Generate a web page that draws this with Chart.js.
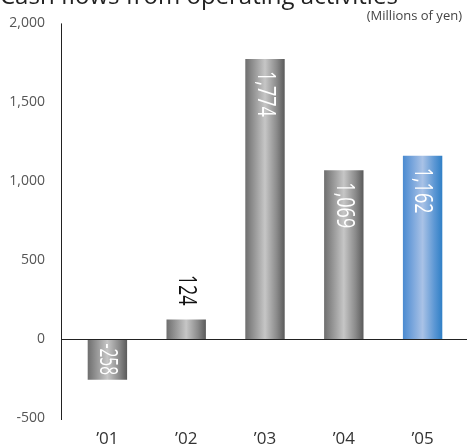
<!DOCTYPE html>
<html>
<head>
<meta charset="utf-8">
<script src="https://cdn.jsdelivr.net/npm/chart.js@4.4.1/dist/chart.umd.min.js"></script>
<style>
  html, body { margin: 0; padding: 0; background: #fff; overflow: hidden; }
  #wrap { position: relative; width: 467px; height: 446px; }
  #title {
    position: absolute; left: 0; top: -22px; margin: 0;
    font: 400 24px "Open Sans", sans-serif; color: #222; white-space: nowrap;
  }
  #unit {
    position: absolute; right: 5px; top: 6px;
    font: 400 13px "Open Sans", sans-serif; color: #444;
  }
  canvas { position: absolute; left: 0; top: 0; }
</style>
</head>
<body>
<div id="wrap">
  <canvas id="chartCash" width="467" height="446"></canvas>
  <div id="title">Cash flows from operating activities</div>
  <div id="unit">(Millions of yen)</div>
</div>
<script>
// data
const years = ["\u201901", "\u201902", "\u201903", "\u201904", "\u201905"];
const cashFlow = [-258, 124, 1774, 1069, 1162];
const yTicks = [-500, 0, 500, 1000, 1500, 2000];

const grayStops = ["#6e6e6e", "#9a9a9a", "#c6c6c6", "#8a8a8a", "#5a5a5a"];
const blueStops = ["#4a8ad0", "#7aa6dc", "#a9c2e6", "#5c97d4", "#2f7fc6"];

function barGradient(ctx) {
    const chart = ctx.chart;
    const xs = chart.scales.x;
    if (!xs || !chart.chartArea) return "#999";
    const cx = xs.getPixelForValue(ctx.dataIndex);
    const half = xs.width / years.length * 0.25;
    const g = chart.ctx.createLinearGradient(cx - half, 0, cx + half, 0);
    const stops = ctx.dataIndex === years.length - 1 ? blueStops : grayStops;
    [0, 0.25, 0.5, 0.8, 1].forEach((p, i) => g.addColorStop(p, stops[i]));
    return g;
}

// axis line + zero line + vertical value labels
const axisPlugin = {
    id: "axisPlugin",
    afterDraw(chart) {
        const c = chart.ctx;
        const area = chart.chartArea;
        const ys = chart.scales.y;
        const axisX = area.left - 7;
        const zeroY = Math.round(ys.getPixelForValue(0)) + 0.5;
        c.save();
        c.strokeStyle = "#222";
        c.lineWidth = 1;
        c.beginPath();
        c.moveTo(axisX + 0.5, area.top);
        c.lineTo(axisX + 0.5, area.bottom + 2);
        c.moveTo(axisX, zeroY);
        c.lineTo(chart.width, zeroY);
        c.stroke();

        const meta = chart.getDatasetMeta(0);
        c.font = '400 25px "Open Sans", sans-serif';
        c.textBaseline = "middle";
        meta.data.forEach((bar, i) => {
            const v = cashFlow[i];
            const txt = v.toLocaleString("en-US");
            c.save();
            let y, color, align;
            if (v < 0) {
                y = zeroY + 4; color = "#fff"; align = "left";
            } else if (bar.base - bar.y < 80) {
                y = bar.y - 14; color = "#111"; align = "right";
            } else {
                y = bar.y + 12; color = "#fff"; align = "left";
            }
            c.translate(bar.x, y);
            c.rotate(Math.PI / 2);
            c.scale(v < 0 ? 0.62 : 0.72, 1);
            c.fillStyle = color;
            c.textAlign = align;
            c.fillText(txt, 0, 0);
            c.restore();
        });
        c.restore();
    }
};

const ctxCash = document.getElementById("chartCash").getContext("2d");

let chartCash = new Chart(ctxCash, {
    type: "bar",
    data: {
        labels: years,
        datasets: [{
            data: cashFlow,
            backgroundColor: barGradient,
            borderWidth: 0,
            barPercentage: 0.5,
            categoryPercentage: 1
        }]
    },
    options: {
        responsive: false,
        animation: false,
        layout: { padding: { top: 22, right: 5, left: 0, bottom: 0 } },
        plugins: { legend: { display: false }, tooltip: { enabled: false } },
        scales: {
            x: {
                grid: { display: false },
                border: { display: false },
                ticks: { color: "#333", padding: 5, font: { family: "Open Sans", size: 17, lineHeight: 1 } },
                afterFit(scale) { scale.height = 28; }
            },
            y: {
                min: -500,
                max: 2000,
                afterBuildTicks(scale) { scale.ticks = yTicks.map(v => ({ value: v })); },
                grid: { display: false },
                border: { display: false },
                ticks: {
                    color: "#555",
                    padding: 15,
                    font: { family: "Open Sans", size: 14 },
                    callback: v => v.toLocaleString("en-US")
                },
                afterFit(scale) { scale.width = 68; }
            }
        }
    },
    plugins: [axisPlugin]
});
</script>
</body>
</html>
